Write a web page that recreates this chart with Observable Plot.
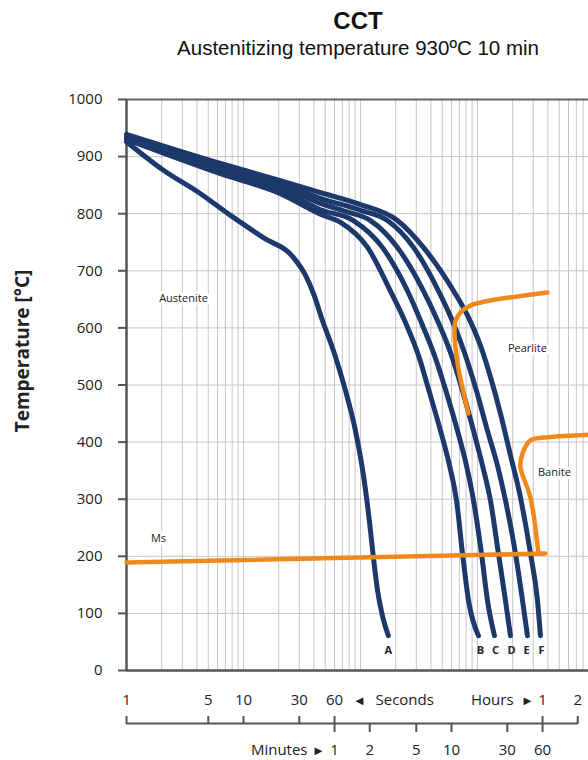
<!DOCTYPE html>
<html>
<head>
<meta charset="utf-8">
<script src="https://cdn.jsdelivr.net/npm/d3@7"></script>
<script src="https://cdn.jsdelivr.net/npm/@observablehq/plot@0.6"></script>
<style>
  html, body { margin: 0; padding: 0; background: #fff; width: 588px; height: 760px; overflow: hidden; }
  #wrap { position: relative; width: 716px; }
  #head { position: relative; height: 60px; }
  #title { position: absolute; left: 0; top: 7px; width: 716px; text-align: center; font: bold 24px/28px "Liberation Sans", Arial, sans-serif; color: #111; }
  #subtitle { position: absolute; left: 0; top: 36px; width: 716px; text-align: center; font: 20.5px/24px "Liberation Sans", Arial, sans-serif; color: #111; }
  svg { display: block; }
</style>
</head>
<body>
<div id="wrap">
  <div id="head">
    <div id="title"></div>
    <div id="subtitle"></div>
  </div>
  <div id="main"></div>
  <div id="scale"></div>
</div>
<script>
// ---------- texts ----------
const titleText = "CCT";
const subtitleText = "Austenitizing temperature 930ºC 10 min";
const yLabel = "Temperature [°C]";

// ---------- axis ticks ----------
const yTicks = [0, 100, 200, 300, 400, 500, 600, 700, 800, 900, 1000];
const yGrid = [100, 200, 300, 400, 500, 600, 700, 800, 900];
const xGrid = [2, 3, 4, 5, 6, 7, 8, 9, 10, 20, 30, 40, 50, 60, 70, 80, 90, 100,
  200, 300, 400, 500, 600, 700, 800, 900, 1000, 2000, 3000, 4000, 5000, 6000, 7000,
  8000, 9000, 10000, 20000, 30000, 40000, 50000, 60000, 70000, 80000];
const secondsTicks = [1, 5, 10, 30, 60];
const minutesTicks = [1, 2, 5, 10, 30, 60];
const hoursTicks = [1, 2];
const secondsWord = "Seconds";
const minutesWord = "Minutes";
const hoursWord = "Hours";
const arrowLeft = "◄";
const arrowRight = "►";

// ---------- cooling curves: [time in s, temperature in °C] ----------
const curveA = [[1,926],[2.07,876],[4.29,835],[7.74,797],[14.8,758],[26.8,723],[33.9,692],[39.7,660],[47.3,613],[58.8,560],[74.5,490],[90.6,420],[106,342],[119,263],[129,198],[140,140],[154,96],[173,61]];
const curveB = [[1,930],[6.36,870],[20.7,835],[45.5,799],[67.5,785],[115,741],[180,665],[243,609],[313,552],[389,487],[483,420],[577,359],[662,298],[745,205],[838,123],[1020,61]];
const curveC = [[1,932],[6.36,874],[20.7,842],[45.5,807],[87.1,788],[154,741],[252,665],[332,609],[429,552],[543,487],[675,420],[805,359],[925,298],[1082,205],[1217,123],[1397,61]];
const curveD = [[1,933],[6.36,877],[20.7,848],[45.5,818],[74.5,804],[122,788],[207,741],[345,665],[455,613],[588,557],[745,490],[925,420],[1104,359],[1291,298],[1511,205],[1735,123],[1914,61]];
const curveE = [[1,935],[6.36,883],[20.7,853],[45.5,827],[100,806],[170,788],[284,741],[464,665],[600,616],[774,557],[980,490],[1217,420],[1483,359],[1735,298],[2113,205],[2426,123],[2675,61]];
const curveF = [[1,939],[6.36,888],[20.7,858],[45.5,837],[100,816],[207,788],[345,741],[624,665],[822,622],[1061,569],[1318,508],[1573,450],[1914,377],[2332,303],[2838,205],[3258,123],[3455,61]];

// ---------- transformation lines ----------
const msLine = [[1,189],[3800,205]];
const pearliteLine = [[838,450],[789,473],[675,538],[636,595],[649,613],[716,627],[871,639],[1291,648],[2198,655],[3966,662]];
const bainiteLine = [[3320,205],[2838,303],[2332,356],[2426,380],[2838,403],[3664,408],[8890,413],[10000,414]];

// ---------- labels ----------
const curveNames = ["A", "B", "C", "D", "E", "F"];
const curveNameTimes = [173, 1061, 1426, 1953, 2624, 3524];
const curveNameTemp = 35;
const regionNames = ["Austenite", "Pearlite", "Banite", "Ms"];
const regionTimes = [3.07, 2675, 4550, 1.877];
const regionTemps = [651, 564, 347, 231];

// ---------- build tables ----------
const toRows = (id, pts) => pts.map(([t, T]) => ({id, t, T}));
const navyRows = [
  ...toRows("A", curveA), ...toRows("B", curveB), ...toRows("C", curveC),
  ...toRows("D", curveD), ...toRows("E", curveE), ...toRows("F", curveF)
];
const orangeRows = [
  ...toRows("Ms", msLine), ...toRows("Pearlite", pearliteLine), ...toRows("Bainite", bainiteLine)
];
const nameRows = curveNames.map((n, i) => ({n, t: curveNameTimes[i], T: curveNameTemp}));
const regionRows = regionNames.map((n, i) => ({n, t: regionTimes[i], T: regionTemps[i]}));
const topLabels = [
  ...secondsTicks.map(s => ({t: s, label: String(s)})),
  ...hoursTicks.map(h => ({t: h * 3600, label: String(h)}))
];
const bottomLabels = minutesTicks.map(m => ({t: m * 60, label: String(m)}));

const navy = "#1d386b";
const orange = "#f0891b";
const W = 716, ML = 126, MR = 12.5;
const xDomain = [1, 86400];
const font = "'Open Sans', 'Noto Sans', sans-serif";

document.getElementById("title").textContent = titleText;
document.getElementById("subtitle").textContent = subtitleText;

const main = Plot.plot({
  width: W, height: 620,
  marginTop: 39, marginBottom: 10, marginLeft: ML, marginRight: MR,
  x: {type: "log", domain: xDomain, axis: null},
  y: {domain: [0, 1000], axis: null},
  style: {fontFamily: font, fontSize: "15px", color: "#222", background: "transparent", overflow: "visible"},
  marks: [
    Plot.ruleX(xGrid, {stroke: "#c6c6c6", strokeWidth: 1}),
    Plot.ruleY(yGrid, {stroke: "#c6c6c6", strokeWidth: 1}),
    Plot.ruleY([1000], {stroke: "#666", strokeWidth: 2}),
    Plot.ruleY([0], {stroke: "#555", strokeWidth: 2.5}),
    Plot.ruleX([xDomain[0]], {stroke: "#555", strokeWidth: 2.5}),
    Plot.axisY(yTicks, {anchor: "left", tickSize: 8, tickPadding: 16, tickFormat: d => String(d),
      label: null, stroke: "#555", strokeWidth: 2, fill: "#222", fontSize: 15}),
    Plot.text([yLabel], {frameAnchor: "left", textAnchor: "middle", rotate: -90, dx: -104, dy: -34,
      fontSize: 19, fontWeight: "bold", fill: "#222"}),
    Plot.text(regionRows, {x: "t", y: "T", text: "n", fontSize: 11, fill: "#222",
      stroke: "white", strokeWidth: 6}),
    Plot.line(navyRows, {x: "t", y: "T", z: "id", stroke: navy, strokeWidth: 5,
      curve: "monotone-x", strokeLinecap: "round", strokeLinejoin: "round"}),
    Plot.line(orangeRows, {x: "t", y: "T", z: "id", stroke: orange, strokeWidth: 4.5,
      curve: "catmull-rom", strokeLinecap: "round", strokeLinejoin: "round"}),
    Plot.text(nameRows, {x: "t", y: "T", text: "n", fontSize: 11, fontWeight: "bold", fill: "#222"})
  ]
});
document.getElementById("main").appendChild(main);

const lastSec = secondsTicks[secondsTicks.length - 1];
const firstHour = hoursTicks[0] * 3600;
const scale = Plot.plot({
  width: W, height: 85,
  marginTop: 43, marginBottom: 42, marginLeft: ML, marginRight: MR,
  x: {type: "log", domain: xDomain, axis: null},
  y: {axis: null},
  style: {fontFamily: font, fontSize: "15px", color: "#222", background: "transparent", overflow: "visible"},
  marks: [
    Plot.ruleY([0], {x1: secondsTicks[0], x2: hoursTicks[hoursTicks.length - 1] * 3600, stroke: "#555", strokeWidth: 2}),
    Plot.axisX(topLabels.map(d => d.t), {anchor: "top", tickSize: 8, tickFormat: () => "",
      label: null, stroke: "#555", strokeWidth: 2}),
    Plot.axisX(bottomLabels.map(d => d.t), {anchor: "bottom", tickSize: 9, tickFormat: () => "",
      label: null, stroke: "#555", strokeWidth: 2}),
    Plot.text(topLabels, {x: "t", text: "label", dy: -23, fontSize: 15, fill: "#222"}),
    Plot.text(bottomLabels, {x: "t", text: "label", dy: 27, fontSize: 15, fill: "#222"}),
    Plot.text([arrowLeft], {x: [lastSec], dx: 25, dy: -23, fontSize: 13, fill: "#222"}),
    Plot.text([secondsWord], {x: [lastSec], dx: 41, dy: -23, textAnchor: "start", fontSize: 15, fill: "#222"}),
    Plot.text([arrowRight], {x: [firstHour], dx: -15, dy: -23, fontSize: 13, fill: "#222"}),
    Plot.text([hoursWord], {x: [firstHour], dx: -29, dy: -23, textAnchor: "end", fontSize: 15, fill: "#222"}),
    Plot.text([arrowRight], {x: [lastSec], dx: -16, dy: 27, fontSize: 13, fill: "#222"}),
    Plot.text([minutesWord], {x: [lastSec], dx: -27, dy: 27, textAnchor: "end", fontSize: 15, fill: "#222"})
  ]
});
document.getElementById("scale").appendChild(scale);
</script>
</body>
</html>
